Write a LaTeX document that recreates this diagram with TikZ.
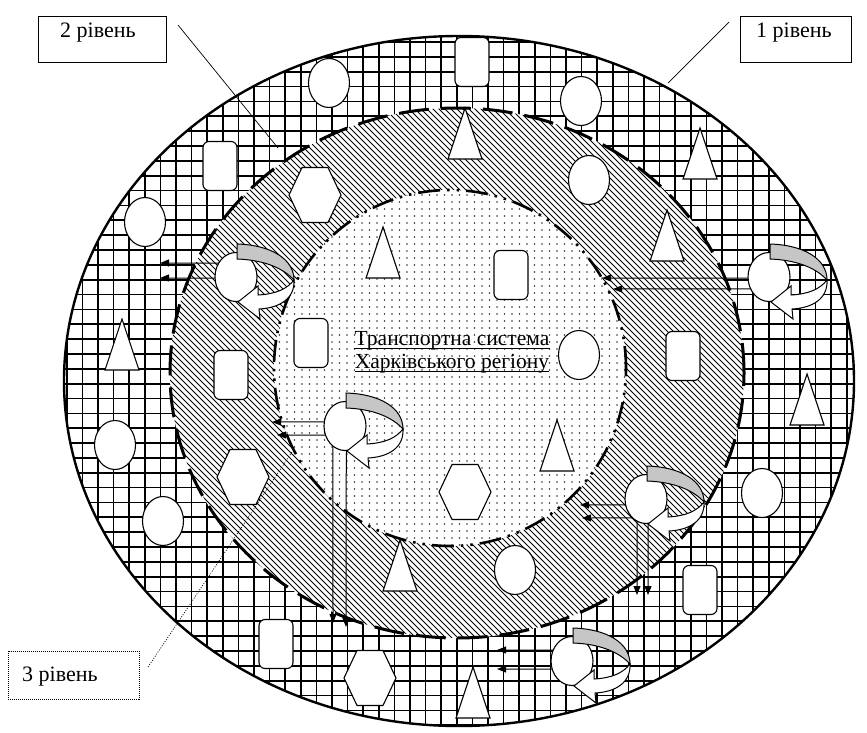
\documentclass[tikz,border=0pt]{standalone}
\usepackage{fontspec}
\setmainfont{Liberation Serif}
\usetikzlibrary{shapes.geometric,arrows.meta,calc}
\tikzset{
  shp/.style={draw=black, line width=1.1pt, fill=white},
  ell/.style={shp, ellipse, minimum width=41pt, minimum height=49pt, inner sep=0pt, outer sep=0pt},
  rrect/.style={shp, rectangle, rounded corners=6pt, minimum width=34pt, minimum height=49pt, inner sep=0pt, outer sep=0pt},
  rotc/.style={ell, minimum width=42pt},
  arr/.style={line width=1pt, -{Triangle[length=9pt,width=7pt]}},
  gridline/.style={line width=1.7pt, black},
  hatchline/.style={line width=1pt, black},
  dotc/.style={black!80},
  lbl/.style={font=\fontsize{22}{26}\selectfont, inner sep=0pt, anchor=base west},
  ctext/.style={font=\fontsize{21.5}{25}\selectfont, inner sep=0pt, anchor=base},
  lbox/.style={draw, line width=0.8pt, anchor=north west, inner sep=0pt},
  tri/.pic={\draw[shp] (0,-26) -- (17,25) -- (-17,25) -- cycle;},
  hexa/.pic={\draw[shp] (-26,0) -- (-13,-27.5) -- (13,-27.5) -- (26,0) -- (13,27.5) -- (-13,27.5) -- cycle;},
  rotarrow/.pic={
    \draw[line width=1pt, fill=gray!45] (1,-33) .. controls (35,-32) and (58,-18) .. (58,3) .. controls (47,-9) and (28,-17) .. (1,-18) -- cycle;
    \draw[line width=1pt, fill=white] (58,3) .. controls (59,22) and (43,31) .. (23,32) -- (24,42) -- (2,25) -- (22,9) -- (22,18) .. controls (40,17) and (51,12) .. (58,3) -- cycle;
  },
}
\begin{document}
\begin{tikzpicture}[x=1pt,y=-1pt]
\useasboundingbox (0,0) rectangle (867,733);
\fill[white] (0,0) rectangle (867,733);
% ---------- level 1: grid ring
\begin{scope}
  \clip (459,381) ellipse [x radius=395pt, y radius=345pt];
  \fill[white] (0,0) rectangle (867,733);
  \foreach \i in {-24,...,29} \draw[gridline] ({410+15.6*\i},30) -- ++(0,705);
  \foreach \j in {-15,...,33} \draw[gridline] (60,{250+14.85*\j}) -- ++(800,0);
\end{scope}
% ---------- level 2: hatched ring
\begin{scope}
  \clip (457,373) ellipse [x radius=287pt, y radius=265pt];
  \fill[white] (150,90) rectangle (760,650);
  \foreach \c in {-480,-474,...,648} \draw[hatchline] ({\c+100},100) -- ({\c+650},650);
\end{scope}
% ---------- level 3: dotted core
\begin{scope}
  \clip (450,368) ellipse [x radius=176pt, y radius=178pt];
  \fill[white] (270,185) rectangle (630,550);
  \foreach \x in {0,...,48} \foreach \y in {0,...,52} \fill[dotc] ({272+7.5*\x},{188+7*\y}) circle[radius=0.85pt];
\end{scope}
% ---------- boundaries
\draw[line width=2.4pt] (459,381) ellipse [x radius=395pt, y radius=345pt];
\draw[line width=3pt, dash pattern=on 30pt off 12pt] (457,373) ellipse [x radius=287pt, y radius=265pt];
\draw[line width=2.6pt, dash pattern=on 22pt off 7pt on 2.5pt off 7pt on 2.5pt off 7pt] (450,368) ellipse [x radius=176pt, y radius=178pt];
% ---------- ellipses
\node[ell] (e1) at (329,83) {};
\node[ell] (e2) at (581,101) {};
\node[ell] (e3) at (145,222) {};
\node[ell] (e4) at (115,445) {};
\node[ell] (e5) at (762,493) {};
\node[ell] (e6) at (163,521) {};
\node[ell] (e7) at (589,180) {};
\node[ell] (e8) at (515,570) {};
\node[ell] (e9) at (579,355) {};
% ---------- rounded rectangles
\node[rrect] (r1) at (472,62) {};
\node[rrect] (r2) at (220,166) {};
\node[rrect] (r3) at (700,590) {};
\node[rrect] (r4) at (276,644) {};
\node[rrect] (r5) at (231,375) {};
\node[rrect] (r6) at (683,356) {};
\node[rrect] (r7) at (511,275) {};
\node[rrect] (r8) at (311,343) {};
% ---------- triangles
\pic at (700,154) {tri};
\pic at (122,345) {tri};
\pic at (807,400) {tri};
\pic at (473,693) {tri};
\pic at (465,134) {tri};
\pic at (667,236) {tri};
\pic at (400,566) {tri};
\pic at (383,253) {tri};
\pic at (557,446) {tri};
% ---------- hexagons
\pic at (370,678) {hexa};
\pic at (315,195) {hexa};
\pic at (243,477) {hexa};
\pic at (465,492) {hexa};
% ---------- rotating elements with flows
\node[rotc] (cA) at (236,277) {};
\coordinate (aA1) at (160,263);
\coordinate (aA2) at (160,278);
\draw[arr] (cA.141) -- (aA1);
\draw[arr] (cA.183) -- (aA2);
\pic at (cA) {rotarrow};

\node[rotc] (cB) at (769,277) {};
\coordinate (aB1) at (602,278);
\coordinate (aB2) at (613,289);
\draw[arr] (cB.183) -- (aB1);
\draw[arr] (cB.213) -- (aB2);
\pic at (cB) {rotarrow};

\node[rotc] (cC) at (345,426) {};
\coordinate (aC1) at (272,422);
\coordinate (aC2) at (277,435);
\coordinate (aC3) at (333,623);
\coordinate (aC4) at (346,627);
\draw[arr] (cC.169) -- (aC1);
\draw[arr] (cC.205) -- (aC2);
\draw[arr] (cC.239) -- (aC3);
\draw[arr] (cC.273) -- (aC4);
\pic at (cC) {rotarrow};

\node[rotc] (cD) at (646,499) {};
\coordinate (aD1) at (580,505);
\coordinate (aD2) at (582,518);
\coordinate (aD3) at (637,595);
\coordinate (aD4) at (648,595);
\draw[arr] (cD.196) -- (aD1);
\draw[arr] (cD.235) -- (aD2);
\draw[arr] (cD.248) -- (aD3);
\draw[arr] (cD.275) -- (aD4);
\pic at (cD) {rotarrow};

\node[rotc] (cE) at (572,661) {};
\coordinate (aE1) at (497,650);
\coordinate (aE2) at (497,669);
\draw[arr] (cE.150) -- (aE1);
\draw[arr] (cE.202) -- (aE2);
\pic at (cE) {rotarrow};
% ---------- central title
\node[ctext] (tx1) at (452,345) {Транспортна система};
\node[ctext] (tx2) at (452,368) {Харківського регіону};
\draw[line width=1.8pt] ([yshift=-3.5pt]tx1.base west) -- ([yshift=-3.5pt]tx1.base east);
\draw[line width=1.8pt] ([yshift=-3.5pt]tx2.base west) -- ([yshift=-3.5pt]tx2.base east);
% ---------- level labels
\node[lbox, minimum width=128pt, minimum height=46pt] (b2) at (38,16) {};
\node[lbl] (l2) at (60,38) {2 рівень};
\coordinate (p2a) at (178,25);
\coordinate (p2b) at (278,148);
\draw[line width=0.7pt] (p2a) -- (p2b);

\node[lbox, minimum width=111pt, minimum height=46pt] (b1) at (740,16) {};
\node[lbl] (l1) at (756,38) {1 рівень};
\coordinate (p1a) at (729,22);
\coordinate (p1b) at (668,83);
\draw[line width=0.7pt] (p1a) -- (p1b);

\node[lbox, dash pattern=on 1pt off 1pt, minimum width=131pt, minimum height=48pt] (b3) at (8,651) {};
\node[lbl] (l3) at (22,681) {3 рівень};
\coordinate (p3a) at (148,667);
\coordinate (p3b) at (292,452);
\draw[line width=0.7pt, dash pattern=on 1pt off 1.5pt] (p3a) -- (p3b);
\end{tikzpicture}
\end{document}
